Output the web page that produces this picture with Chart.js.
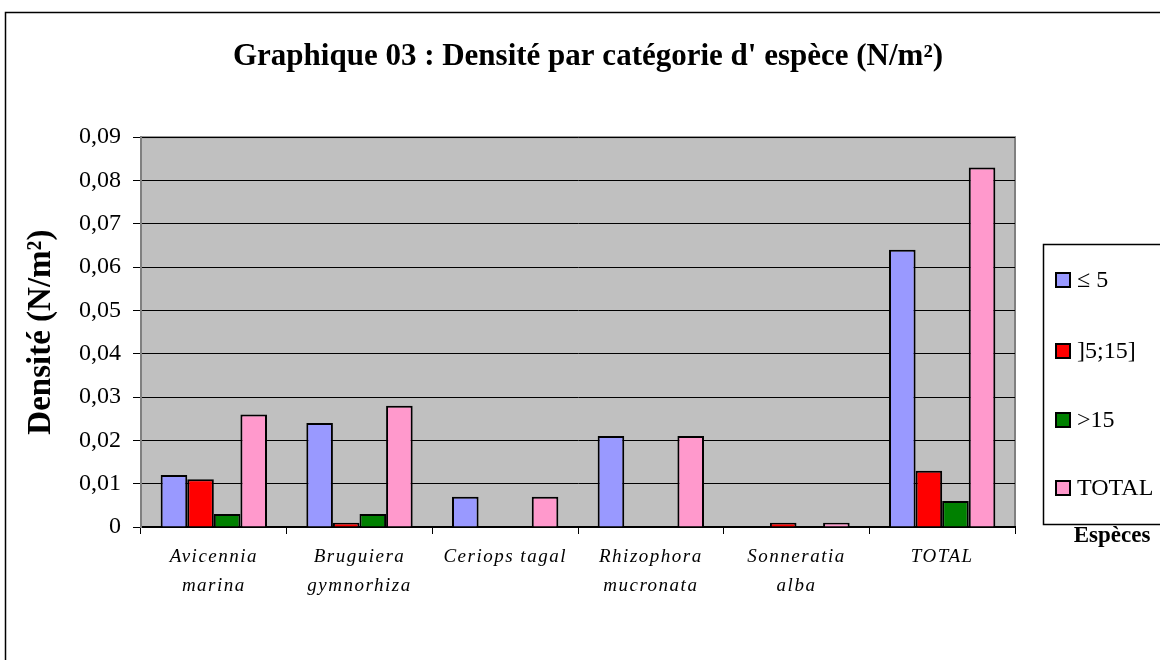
<!DOCTYPE html>
<html>
<head>
<meta charset="utf-8">
<script src="https://cdn.jsdelivr.net/npm/chart.js@4"></script>
<style>
  body { margin: 0; background: #fff; }
  canvas { display: block; }
</style>
</head>
<body>
<canvas id="chart" width="1160" height="660"></canvas>
<script>
// Données du graphique
const especes = [['Avicennia', 'marina'], ['Bruguiera', 'gymnorhiza'], 'Ceriops tagal', ['Rhizophora', 'mucronata'], ['Sonneratia', 'alba'], 'TOTAL'];
const classes = ['\u2264 5', ']5;15]', '>15', 'TOTAL'];
const couleurs = ['#9999FF', '#FF0000', '#008000', '#FF99CC'];
const inf5 = [0.012, 0.024, 0.007, 0.021, 0, 0.064];
const de5a15 = [0.011, 0.001, 0, 0, 0.001, 0.013];
const sup15 = [0.003, 0.003, 0, 0, 0, 0.006];
const total = [0.026, 0.028, 0.007, 0.021, 0.001, 0.083];
const yTicks = [0, 0.01, 0.02, 0.03, 0.04, 0.05, 0.06, 0.07, 0.08, 0.09];

const serif = "'Liberation Serif', 'Times New Roman', serif";
Chart.defaults.color = '#000';
Chart.defaults.font.family = serif;

// Fond gris de la zone de tracé + cadre extérieur + légende
const fondPlugin = {
    id: 'fond',
    beforeDraw(chart) {
        const { ctx, chartArea: a } = chart;
        ctx.save();
        ctx.strokeStyle = '#000';
        ctx.lineWidth = 1.5;
        ctx.strokeRect(5.5, 12.5, 1300, 800);
        ctx.fillStyle = '#C0C0C0';
        ctx.fillRect(a.left, a.top, a.right - a.left, a.bottom - a.top);
        ctx.strokeStyle = '#808080';
        ctx.lineWidth = 2;
        ctx.strokeRect(a.left, a.top, a.right - a.left, a.bottom - a.top);
        ctx.restore();
    },
    afterDatasetsDraw(chart) {
        // espacement des lettres pour les étiquettes de l'axe X (dessinées après)
        chart.ctx.letterSpacing = '1.5px';
    },
    afterDraw(chart) {
        const ctx = chart.ctx;
        ctx.letterSpacing = '0px';
        ctx.save();
        // cadre de la légende
        ctx.strokeStyle = '#000';
        ctx.lineWidth = 1.5;
        ctx.strokeRect(1043.5, 244.5, 200, 280);
        ctx.font = '24px ' + serif;
        ctx.textBaseline = 'middle';
        ctx.textAlign = 'left';
        const ys = [280, 351, 420, 488];
        chart.data.datasets.forEach((ds, i) => {
            ctx.fillStyle = ds.backgroundColor;
            ctx.fillRect(1056, ys[i] - 7, 14, 14);
            ctx.lineWidth = 2;
            ctx.strokeRect(1056, ys[i] - 7, 14, 14);
            ctx.fillStyle = '#000';
            ctx.fillText(ds.label, 1077, ys[i] + 1);
        });
        // titre de l'axe X
        ctx.font = 'bold 23px ' + serif;
        ctx.textAlign = 'center';
        ctx.fillText('Espèces', 1112, 536);
        ctx.restore();
    }
};

const series = [inf5, de5a15, sup15, total];

new Chart(document.getElementById('chart'), {
    type: 'bar',
    data: {
        labels: especes,
        datasets: series.map((d, i) => ({
            label: classes[i],
            data: d,
            backgroundColor: couleurs[i],
            borderColor: '#000',
            borderWidth: 2,
            borderSkipped: 'start',
            categoryPercentage: 0.73,
            barPercentage: 1
        }))
    },
    options: {
        responsive: false,
        animation: false,
        devicePixelRatio: 1,
        layout: { padding: { left: 16, right: 0, top: 0, bottom: 0 } },
        plugins: {
            legend: { display: false },
            tooltip: { enabled: false },
            title: {
                display: true,
                text: "Graphique 03 : Densité par catégorie d' espèce (N/m²)",
                color: '#000',
                font: { family: serif, size: 31, weight: 'bold' },
                padding: { top: 38, bottom: 62 }
            }
        },
        scales: {
            x: {
                grid: { offset: true, drawOnChartArea: false, color: '#000', tickLength: 7, lineWidth: 1 },
                border: { color: '#000', width: 2 },
                ticks: {
                    z: 1,
                    padding: 8,
                    maxRotation: 0,
                    autoSkip: false,
                    font: { family: serif, size: 19, style: 'italic', lineHeight: 1.55 }
                },
                afterFit(s) { s.height = 133; }
            },
            y: {
                min: 0,
                max: 0.09,
                afterBuildTicks(s) { s.ticks = yTicks.map(v => ({ value: v })); },
                grid: { color: '#000', tickLength: 8, lineWidth: 1 },
                border: { color: '#808080', width: 2 },
                ticks: {
                    padding: 12,
                    font: { family: serif, size: 24 },
                    callback: v => v === 0 ? '0' : (Math.round(v * 100) / 100).toFixed(2).replace('.', ',')
                },
                title: {
                    display: true,
                    text: 'Densité (N/m²)',
                    font: { family: serif, size: 33, weight: 'bold' },
                    padding: { top: 6, bottom: 0 }
                },
                afterFit(s) { s.width = 125; }
            },
            droite: {
                position: 'right',
                display: true,
                grid: { display: false },
                border: { display: false },
                ticks: { display: false },
                afterFit(s) { s.width = 145; }
            }
        }
    },
    plugins: [fondPlugin]
});
</script>
</body>
</html>
